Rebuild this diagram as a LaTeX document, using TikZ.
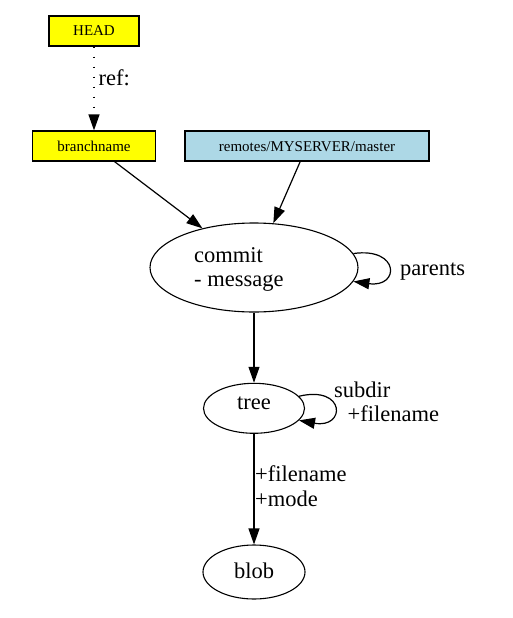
\documentclass[tikz,border=0pt]{standalone}
\usepackage{fontspec}
\setmainfont{Liberation Serif}
\newfontfamily\tms{Liberation Serif}
\usetikzlibrary{arrows.meta,shapes.geometric}
\definecolor{headyellow}{HTML}{FFFF00}
\definecolor{remoteblue}{HTML}{ADD8E6}
\begin{document}
\begin{tikzpicture}[x=1pt,y=-1pt,
  refbox/.style={draw, line width=1.2pt, inner sep=0pt, font=\tms\fontsize{15}{17}\selectfont, text height=10pt, text depth=0pt},
  obj/.style={draw, ellipse, line width=1.1pt, inner sep=0pt, font=\tms\fontsize{22.5}{24.5}\selectfont},
  lbl/.style={inner sep=0pt, font=\tms\fontsize{22.5}{24.5}\selectfont, anchor=base west},
  edge/.style={line width=1.2pt, -{Triangle[length=16pt,width=11pt]}},
]
\useasboundingbox (0,0) rectangle (512,618);
% nodes
\node[refbox, fill=headyellow, minimum width=90pt, minimum height=30pt] (head) at (94,31) {HEAD};
\node[refbox, fill=headyellow, minimum width=123pt, minimum height=30pt] (branch) at (94,146) {branchname};
\node[refbox, fill=remoteblue, minimum width=244pt, minimum height=30pt] (remote) at (307,146) {remotes/MYSERVER/master};
\node[obj, minimum width=208pt, minimum height=89pt] (commit) at (254,267.5) {};
\node[lbl] (commitlbl) at (194,262) {\begin{tabular}[t]{@{}l@{}}commit\\- message\end{tabular}};
\node[obj, minimum width=101pt, minimum height=50pt, text height=13pt, text depth=11pt] (tree) at (254,408.3) {tree};
\node[obj, minimum width=102pt, minimum height=54pt, text height=15pt, text depth=2pt] (blob) at (254,572) {blob};
% edges
\draw[edge, dash pattern=on 1.3pt off 8.7pt] (head) -- (branch) node[lbl, pos=0.52, xshift=4pt, yshift=5pt] (reflbl) {ref:};
\draw[edge] (branch) -- (commit);
\draw[edge] (remote) -- (commit);
\draw[edge] (commit) -- (tree);
\draw[edge] (tree) -- (blob);
\draw[edge] (commit.8) .. controls (400,247) and (400,288) .. (commit.-8);
\draw[edge] (tree.15) .. controls (346,385) and (346,429) .. (tree.-15);
% labels
\node[lbl] (parentslbl) at (400,275) {parents};
\node[lbl] (subdirlbl) at (334,397.3) {\begin{tabular}[t]{@{}l@{}}subdir\\\hspace*{13.5pt}+filename\end{tabular}};
\node[lbl] (filelbl) at (255,481.7) {\begin{tabular}[t]{@{}l@{}}+filename\\+mode\end{tabular}};
\end{tikzpicture}
\end{document}
